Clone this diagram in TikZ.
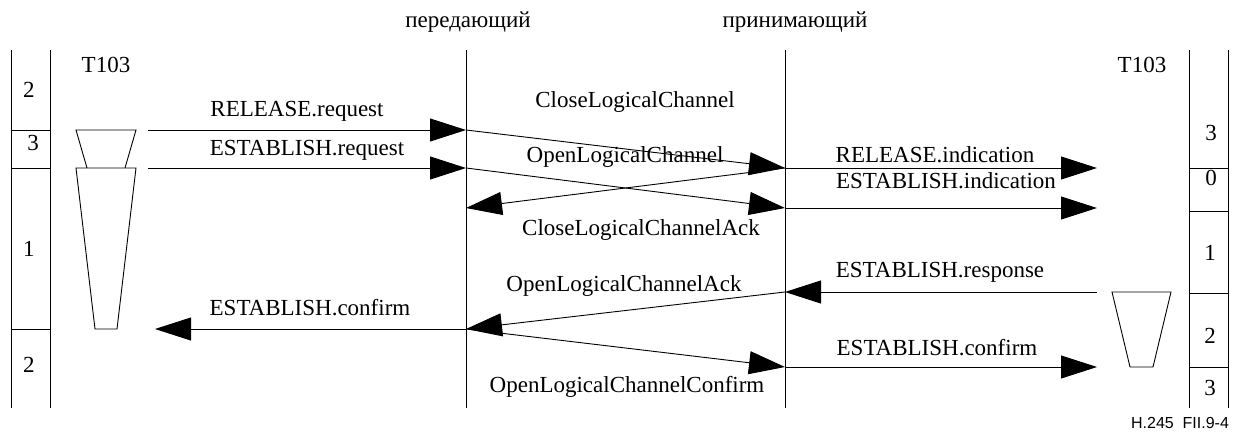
\documentclass[tikz,border=0pt]{standalone}
\usepackage{fontspec}
\setmainfont{Liberation Serif}
\newfontfamily\figsans{Liberation Sans}
\usetikzlibrary{arrows.meta,positioning}

\begin{document}
\begin{tikzpicture}[x=1pt, y=-1pt, line width=0.9pt,
  every node/.style={font=\fontsize{23}{27}\selectfont, inner sep=0pt},
  msg/.style={-{Triangle[length=36pt, width=23pt]}},
  lbl/.style={anchor=base}]
  \useasboundingbox (0,0) rectangle (1233,436);
  % entity headings
  \node[lbl] (tx) at (468,28) {передающий};
  \node[lbl] (rx) at (795,28) {принимающий};
  % lifelines
  \draw (466,50) -- (466,408);
  \draw (785,50) -- (785,408);
  % state columns
  \draw (11,50) -- (11,408) (50,50) -- (50,408);
  \foreach \y in {130,168,329} \draw (11,\y) -- (50,\y);
  \draw (1189,50) -- (1189,408) (1228,50) -- (1228,408);
  \foreach \y in {168,211,293,367} \draw (1189,\y) -- (1228,\y);
  \node[lbl] (ls1) at (29,97) {2};
  \node[lbl] (ls2) at (33,150) {3};
  \node[lbl] (ls3) at (29,256) {1};
  \node[lbl] (ls4) at (29,372) {2};
  \node[lbl] (rs1) at (1211,140) {3};
  \node[lbl] (rs2) at (1211,185) {0};
  \node[lbl] (rs3) at (1210,260) {1};
  \node[lbl] (rs4) at (1210,343) {2};
  \node[lbl] (rs5) at (1210,395) {3};
  % timers
  \node[lbl] (ltimer) at (106,73) {T103};
  \node[lbl] (rtimer) at (1142,73) {T103};
  \draw (87,168) -- (76,130) -- (136,130) -- (125,168);
  \draw (76,168) -- (136,168) -- (117,329) -- (95,329) -- cycle;
  \draw (1112,292) -- (1171,292) -- (1153,367) -- (1130,367) -- cycle;
  % message end points
  \coordinate (lq1) at (148,130);
  \coordinate (lq2) at (148,168);
  \coordinate (lc)  at (155,329);
  \coordinate (t1) at (466,130);
  \coordinate (t2) at (466,168);
  \coordinate (t3) at (466,208);
  \coordinate (t4) at (466,329);
  \coordinate (r1) at (785,168);
  \coordinate (r2) at (785,208);
  \coordinate (r3) at (785,292);
  \coordinate (r4) at (785,367);
  \coordinate (ri1) at (1097,168);
  \coordinate (ri2) at (1097,208);
  \coordinate (ri3) at (1097,292);
  \coordinate (ri4) at (1097,367);
  % messages
  \draw[msg] (lq1) -- (t1);
  \draw[msg] (lq2) -- (t2);
  \draw[msg] (t1) -- (r1);
  \draw[msg] (r1) -- (t3);
  \draw[msg] (t2) -- (r2);
  \draw[msg] (r1) -- (ri1);
  \draw[msg] (r2) -- (ri2);
  \draw[msg] (ri3) -- (r3);
  \draw[msg] (r3) -- (t4);
  \draw[msg] (t4) -- (lc);
  \draw[msg] (t4) -- (r4);
  \draw[msg] (r4) -- (ri4);
  % message labels
  \node[lbl] (relreq) at (297,116) {RELEASE.request};
  \node[lbl] (estreq) at (307,155) {ESTABLISH.request};
  \node[lbl] (clc)    at (635,107) {CloseLogicalChannel};
  \node[lbl] (olc)    at (625,162) {OpenLogicalChannel};
  \node[lbl] (clcack) at (641,235) {CloseLogicalChannelAck};
  \node[lbl] (relind) at (935,162) {RELEASE.indication};
  \node[lbl] (estind) at (946,188) {ESTABLISH.indication};
  \node[lbl] (estrsp) at (940,277) {ESTABLISH.response};
  \node[lbl] (olcack) at (624,291) {OpenLogicalChannelAck};
  \node[lbl] (estcnf) at (310,315) {ESTABLISH.confirm};
  \node[lbl] (olccnf) at (627,392) {OpenLogicalChannelConfirm};
  \node[lbl] (estcnf2) at (937,355) {ESTABLISH.confirm};
  \node[lbl, font=\figsans\fontsize{16}{19}\selectfont] (figid) at (1180,428) {H.245\ \ FII.9-4};
\end{tikzpicture}
\end{document}
